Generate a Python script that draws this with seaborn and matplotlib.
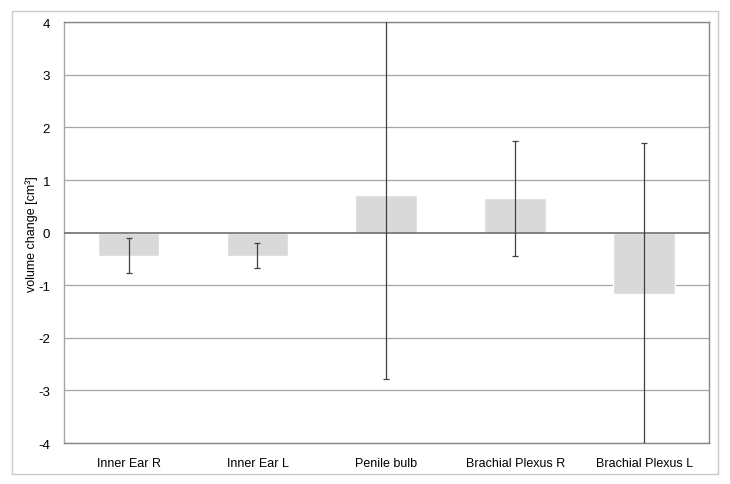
import matplotlib
matplotlib.use('Agg')
import matplotlib.pyplot as plt
import seaborn as sns
import pandas as pd
from matplotlib.patches import Rectangle

# values
categories = ['Inner Ear R', 'Inner Ear L', 'Penile bulb', 'Brachial Plexus R', 'Brachial Plexus L']
means = [-0.44, -0.44, 0.71, 0.65, -1.16]
errors = [0.33, 0.24, 3.5, 1.1, 2.86]
yticks = [-4, -3, -2, -1, 0, 1, 2, 3, 4]

df = pd.DataFrame({'structure': categories, 'change': means, 'err': errors})

sns.set_style('white')
plt.rcParams['font.family'] = ['Liberation Sans', 'DejaVu Sans']

fig = plt.figure(figsize=(7.3, 4.85), dpi=100)
ax = fig.add_axes([0.0877, 0.0845, 0.8833, 0.8675])

# outer chart frame
fig.patches.append(Rectangle((11.7 / 730, 10 / 485), (718 - 11.7) / 730, (475 - 11.7) / 485,
                             transform=fig.transFigure, fill=False,
                             edgecolor='#c8c8c8', linewidth=1.0))

for t in yticks:
    if t == 0:
        continue
    ax.axhline(t, color='#a6a6a6', linewidth=0.9, zorder=0)

sns.barplot(data=df, x='structure', y='change', color='#d9d9d9', saturation=1,
            width=0.48, errorbar=None, ax=ax, zorder=2)
ax.axhline(0, color='#6e6e6e', linewidth=1.2, zorder=3)
ax.errorbar(range(len(categories)), df['change'], yerr=df['err'], fmt='none',
            ecolor='#404040', elinewidth=0.9, capsize=2, capthick=0.9, zorder=4)

ax.set_xlim(-0.5, len(categories) - 0.5)
ax.set_ylim(-4, 4)
ax.set_yticks(yticks)
ax.set_yticklabels([str(t) for t in yticks])
ax.set_xlabel('')
ax.set_ylabel('volume change [cm³]', fontsize=9, color='black')
ax.yaxis.set_label_coords(-0.041, 0.5)
ax.tick_params(axis='y', length=4, width=0.8, color='#868686', labelsize=9.5,
               labelcolor='black', pad=6)
ax.tick_params(axis='x', length=0, labelsize=9, labelcolor='black', pad=10)

for s in ['left', 'right', 'top', 'bottom']:
    ax.spines[s].set_color('#868686')
    ax.spines[s].set_linewidth(1.0)
ax.spines['left'].set_color('#a6a6a6')

fig.savefig('out.png', dpi=100)
